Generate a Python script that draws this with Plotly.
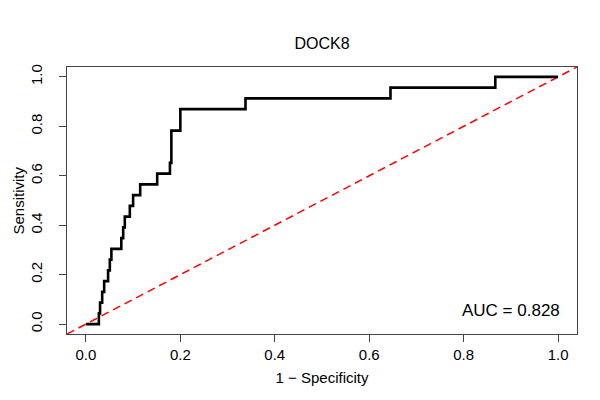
import plotly.graph_objects as go

# ROC corner points (23 positives -> steps of 1/23)
fpr = [0, 0.0275, 0.030, 0.0345, 0.0387, 0.047, 0.0507, 0.054, 0.075, 0.079,
       0.0824, 0.093, 0.100, 0.115, 0.151, 0.178, 0.181, 0.200, 0.338, 0.645,
       0.867, 1.0]
tp_count = [0, 1, 2, 3, 4, 5, 6, 7, 8, 9, 10, 11, 12, 13, 14, 15, 18, 20, 21,
            22, 23, 23]
n_pos = 23
tpr = [k / n_pos for k in tp_count]

axis_range = [-0.04, 1.04]
tick_vals = [0, 0.2, 0.4, 0.6, 0.8, 1.0]
tick_text = ["0.0", "0.2", "0.4", "0.6", "0.8", "1.0"]
auc_label = "AUC = 0.828"

font = "Liberation Sans, Arial, Helvetica, sans-serif"

fig = go.Figure()

# chance diagonal
fig.add_trace(go.Scatter(
    x=axis_range, y=axis_range, mode="lines",
    line=dict(color="#ff0000", width=1.5, dash="8px,5px"),
    hoverinfo="skip", showlegend=False,
))

fig.add_trace(go.Scatter(
    x=fpr, y=tpr, mode="lines", line_shape="hv",
    line=dict(color="black", width=2.6),
    showlegend=False,
))

fig.add_annotation(
    x=0.9, y=0.055, xref="x", yref="y", text=auc_label, showarrow=False,
    font=dict(family=font, size=17, color="black"),
)

# y-axis title placed by hand (R puts it close to the edge)
fig.add_annotation(
    x=0, y=0.5, xref="paper", yref="paper", xanchor="center", yanchor="middle",
    xshift=-49, textangle=-90, text="Sensitivity", showarrow=False,
    font=dict(family=font, size=15, color="black"),
)

axis_common = dict(
    range=axis_range, tickvals=tick_vals, ticktext=tick_text,
    showgrid=False, zeroline=False, automargin=False,
    showline=True, mirror=True, linecolor="#444", linewidth=1,
    ticks="outside", ticklen=7, tickcolor="#444",
    tickfont=dict(family=font, size=15, color="black"),
)

fig.update_layout(
    width=600, height=400,
    margin=dict(l=59, r=31, t=59, b=74),
    paper_bgcolor="white", plot_bgcolor="white",
    title=dict(text="DOCK8", x=0.5, xref="paper", y=1 - 35 / 400,
               yref="container", yanchor="middle",
               font=dict(family=font, size=16, color="black")),
    xaxis=dict(**axis_common,
               title=dict(text="1 − Specificity", standoff=10,
                          font=dict(family=font, size=15, color="black"))),
    yaxis=dict(**axis_common, tickangle=-90, ticklabelstandoff=11),
)

fig.write_html("out.html")
